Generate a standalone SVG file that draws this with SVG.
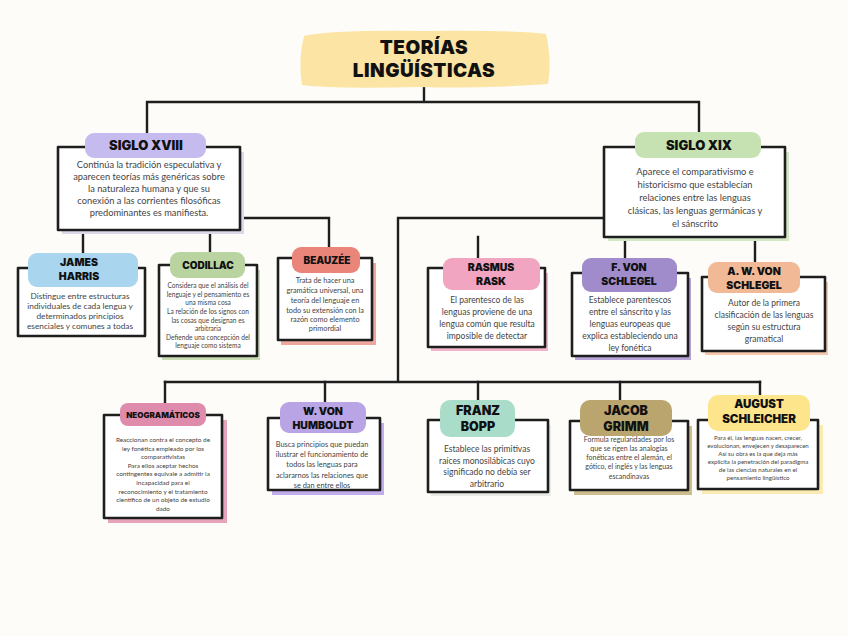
<svg xmlns="http://www.w3.org/2000/svg" width="848" height="636" viewBox="0 0 848 636">
<style>
.bg{fill:#fdfcf8}
.box{fill:#ffffff;stroke:#1e1e1e;stroke-width:2.6;stroke-linejoin:round}
.con{fill:none;stroke:#1e1e1e;stroke-width:2.4;stroke-linecap:square}
.h{font-family:Inter,"Liberation Sans",sans-serif;font-weight:900;fill:#111;text-anchor:middle}
.b{font-family:Lato,"Open Sans","Liberation Sans",sans-serif;font-weight:400;fill:#444;text-anchor:middle}
</style>
<rect class="bg" x="0" y="0" width="848" height="636"/>

<g id="connectors">
<path class="con" d="M424,87 V102 M147,102 H699 M147,102 V135 M699,102 V135"/>
<path class="con" d="M240,218 H329 V248 M83,230 V254 M210,230 V252"/>
<path class="con" d="M604,218 H398 V382 M165,382 H760"/>
<path class="con" d="M478,237 V258 M625,237 V258 M755,237 V262"/>
<path class="con" d="M165,382 V403 M325,382 V403 M478,382 V400 M620,382 V400 M760,382 V396"/>
</g>

<g id="title">
<path d="M304,36 Q330,30 420,31 Q520,30 546,34 Q552,60 548,84 Q480,89 420,87 Q330,89 302,85 Q298,60 304,36 Z" fill="#fbe4a4"/>
<text class="h" x="424" y="54" font-size="19" letter-spacing="0.5">TEORÍAS</text>
<text class="h" x="424" y="77" font-size="19" letter-spacing="0.5">LINGÜÍSTICAS</text>
</g>

<g id="siglo-xviii">
<rect x="62" y="152" width="182" height="82" fill="#dcd8e8"/>
<rect class="box" x="58" y="147" width="182" height="83"/>
<rect x="85" y="133" width="121" height="25" rx="9" fill="#c6bbee"/>
<text class="h" x="146" y="150" font-size="13">SIGLO XVIII</text>
<text class="b" font-size="9.3"><tspan x="149" y="168">Continúa la tradición especulativa y</tspan><tspan x="149" y="180">aparecen teorías más genéricas sobre</tspan><tspan x="149" y="192">la naturaleza humana y que su</tspan><tspan x="149" y="204">conexión a las corrientes filosóficas</tspan><tspan x="149" y="216">predominantes es manifiesta.</tspan></text>
</g>

<g id="siglo-xix">
<rect x="608" y="152" width="181" height="89" fill="#d3e8c4"/>
<rect class="box" x="604" y="147" width="181" height="90"/>
<rect x="635" y="132" width="126" height="26" rx="9" fill="#c6e2b2"/>
<text class="h" x="699" y="150" font-size="13">SIGLO XIX</text>
<text class="b" font-size="9.3"><tspan x="695" y="175">Aparece el comparativismo e</tspan><tspan x="695" y="188">historicismo que establecían</tspan><tspan x="695" y="201">relaciones entre las lenguas</tspan><tspan x="695" y="214">clásicas, las lenguas germánicas y</tspan><tspan x="695" y="227">el sánscrito</tspan></text>
</g>

<g id="james-harris">
<rect class="box" x="18" y="268" width="127" height="68"/>
<rect x="28" y="253" width="110" height="34" rx="9" fill="#a9d5ee"/>
<text class="h" x="79" y="266" font-size="10.5">JAMES</text>
<text class="h" x="79" y="280" font-size="10.5">HARRIS</text>
<text class="b" font-size="8.3"><tspan x="80" y="299">Distingue entre estructuras</tspan><tspan x="80" y="309">individuales de cada lengua y</tspan><tspan x="80" y="319">determinados principios</tspan><tspan x="80" y="329">esenciales y comunes a todas</tspan></text>
</g>

<g id="codillac">
<rect x="162" y="270" width="98" height="90" fill="#c9ddb4"/>
<rect class="box" x="159" y="265" width="98" height="91"/>
<rect x="170" y="252" width="75" height="26" rx="9" fill="#b9d4a0"/>
<text class="h" x="208" y="269" font-size="10">CODILLAC</text>
<text class="b" font-size="6.6"><tspan x="208" y="288">Considera que el análisis del</tspan><tspan x="208" y="297">lenguaje y el pensamiento es</tspan><tspan x="208" y="305">una misma cosa</tspan><tspan x="208" y="314">La relación de los signos con</tspan><tspan x="208" y="323">las cosas que designan es</tspan><tspan x="208" y="331">arbitraria</tspan><tspan x="208" y="340">Defiende una concepción del</tspan><tspan x="208" y="348">lenguaje como sistema</tspan></text>
</g>

<g id="beauzee">
<rect x="281" y="263" width="95" height="82" fill="#eea79e"/>
<rect class="box" x="278" y="258" width="94" height="82"/>
<rect x="292" y="247" width="68" height="26" rx="9" fill="#ea857a"/>
<text class="h" x="327" y="264" font-size="10">BEAUZÉE</text>
<text class="b" font-size="7.3"><tspan x="325" y="283">Trata de hacer una</tspan><tspan x="325" y="293">gramática universal, una</tspan><tspan x="325" y="303">teoría del lenguaje en</tspan><tspan x="325" y="313">todo su extensión con la</tspan><tspan x="325" y="322">razón como elemento</tspan><tspan x="325" y="331">primordial</tspan></text>
</g>

<g id="rasmus-rask">
<rect x="431" y="273" width="117" height="78" fill="#f2b4cb"/>
<rect class="box" x="428" y="268" width="117" height="79"/>
<rect x="443" y="258" width="97" height="32" rx="9" fill="#f1a5c1"/>
<text class="h" x="491" y="271" font-size="10.5">RASMUS</text>
<text class="h" x="491" y="285" font-size="10.5">RASK</text>
<text class="b" font-size="8.5"><tspan x="487" y="303">El parentesco de las</tspan><tspan x="487" y="315">lenguas proviene de una</tspan><tspan x="487" y="327">lengua común que resulta</tspan><tspan x="487" y="339">imposible de detectar</tspan></text>
</g>

<g id="f-von-schlegel">
<rect x="575" y="278" width="116" height="82" fill="#b6a3d8"/>
<rect class="box" x="572" y="273" width="116" height="83"/>
<rect x="582" y="258" width="95" height="34" rx="9" fill="#a08bcb"/>
<text class="h" x="629" y="271" font-size="10.5">F. VON</text>
<text class="h" x="629" y="285" font-size="10.5">SCHLEGEL</text>
<text class="b" font-size="8.5"><tspan x="630" y="303">Establece parentescos</tspan><tspan x="630" y="315">entre el sánscrito y las</tspan><tspan x="630" y="327">lenguas europeas que</tspan><tspan x="630" y="339">explica estableciendo una</tspan><tspan x="630" y="351">ley fonética</tspan></text>
</g>

<g id="a-w-von-schlegel">
<rect x="705" y="282" width="123" height="73" fill="#f4c8ad"/>
<rect class="box" x="702" y="277" width="123" height="74"/>
<rect x="708" y="262" width="92" height="31" rx="9" fill="#f2b997"/>
<text class="h" x="754" y="275" font-size="10.5">A. W. VON</text>
<text class="h" x="754" y="289" font-size="10.5">SCHLEGEL</text>
<text class="b" font-size="8.5"><tspan x="764" y="306">Autor de la primera</tspan><tspan x="764" y="318">clasificación de las lenguas</tspan><tspan x="764" y="330">según su estructura</tspan><tspan x="764" y="342">gramatical</tspan></text>
</g>

<g id="neogramaticos">
<rect x="108" y="420" width="119" height="103" fill="#e6a3bc"/>
<rect class="box" x="104" y="415" width="118" height="103"/>
<rect x="120" y="403" width="86" height="23" rx="8" fill="#df8bab"/>
<text class="h" x="163" y="418" font-size="8">NEOGRAMÁTICOS</text>
<text class="b" font-size="6.4"><tspan x="163" y="442">Reaccionan contra el concepto de</tspan><tspan x="163" y="451">ley fonética empleado por los</tspan><tspan x="163" y="459">comparativistas</tspan><tspan x="163" y="468">Para ellos aceptar hechos</tspan><tspan x="163" y="476">contingentes equivale a admitir la</tspan><tspan x="163" y="485">incapacidad para el</tspan><tspan x="163" y="494">reconocimiento y el tratamiento</tspan><tspan x="163" y="502">científico de un objeto de estudio</tspan><tspan x="163" y="511">dado</tspan></text>
</g>

<g id="w-von-humboldt">
<rect x="272" y="423" width="112" height="72" fill="#c1adeb"/>
<rect class="box" x="268" y="418" width="112" height="72"/>
<rect x="280" y="402" width="86" height="31" rx="9" fill="#b9a4e6"/>
<text class="h" x="323" y="415" font-size="10.5">W. VON</text>
<text class="h" x="323" y="429" font-size="10.5">HUMBOLDT</text>
<text class="b" font-size="7.4"><tspan x="322" y="447">Busca principios que puedan</tspan><tspan x="322" y="457">ilustrar el funcionamiento de</tspan><tspan x="322" y="467">todos las lenguas para</tspan><tspan x="322" y="478">aclararnos las relaciones que</tspan><tspan x="322" y="488">se dan entre ellos</tspan></text>
</g>

<g id="franz-bopp">
<rect x="431" y="425" width="120" height="71" fill="#e9ece6"/>
<rect class="box" x="428" y="420" width="120" height="72"/>
<rect x="440" y="400" width="75" height="37" rx="10" fill="#a9dcc9"/>
<text class="h" x="478" y="415" font-size="12.5">FRANZ</text>
<text class="h" x="478" y="431" font-size="12.5">BOPP</text>
<text class="b" font-size="8.5"><tspan x="487" y="452">Establece las primitivas</tspan><tspan x="487" y="464">raíces monosilábicas cuyo</tspan><tspan x="487" y="475">significado no debía ser</tspan><tspan x="487" y="487">arbitrario</tspan></text>
</g>

<g id="jacob-grimm">
<rect x="574" y="426" width="118" height="69" fill="#cdbd8c"/>
<rect class="box" x="570" y="421" width="118" height="69"/>
<rect x="580" y="400" width="92" height="36" rx="10" fill="#b9a56d"/>
<text class="h" x="626" y="415" font-size="12.5">JACOB</text>
<text class="h" x="626" y="431" font-size="12.5">GRIMM</text>
<text class="b" font-size="7"><tspan x="629" y="442">Formula regularidades por los</tspan><tspan x="629" y="451">que se rigen las analogías</tspan><tspan x="629" y="460">fonéticas entre el alemán, el</tspan><tspan x="629" y="469">gótico, el inglés y las lenguas</tspan><tspan x="629" y="479">escandinavas</tspan></text>
</g>

<g id="august-schleicher">
<rect x="702" y="425" width="121" height="69" fill="#fbeab2"/>
<rect class="box" x="698" y="420" width="120" height="69"/>
<rect x="708" y="395" width="102" height="36" rx="10" fill="#fde58c"/>
<text class="h" x="759" y="408" font-size="11.5">AUGUST</text>
<text class="h" x="759" y="423" font-size="11.5">SCHLEICHER</text>
<text class="b" font-size="6.1"><tspan x="758" y="440">Para él, las lenguas nacen, crecer,</tspan><tspan x="758" y="448">evolucionan, envejecen y desaparecen</tspan><tspan x="758" y="456">Así su obra es la que deja más</tspan><tspan x="758" y="464">explícita la penetración del paradigma</tspan><tspan x="758" y="472">de las ciencias naturales en el</tspan><tspan x="758" y="480">pensamiento lingüístico</tspan></text>
</g>
</svg>
